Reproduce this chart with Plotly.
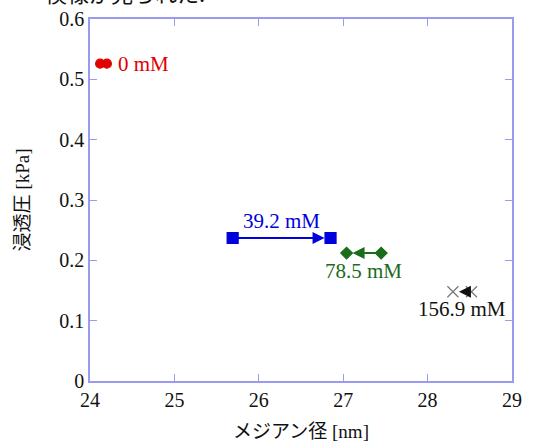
import plotly.graph_objects as go

# data: (start x, end x, y) for each concentration
labels = ["0 mM", "39.2 mM", "78.5 mM", "156.9 mM"]
x_start = [24.12, 25.69, 27.45, 28.52]
x_end = [24.20, 26.85, 27.04, 28.30]
y_vals = [0.526, 0.237, 0.212, 0.148]
colors = ["#e00000", "#0000dd", "#1a6b1a", "#111111"]
symbols = ["circle", "square", "diamond", "x-thin"]
sizes = [9, 11, 9, 11]

x_ticks = [24, 25, 26, 27, 28, 29]
y_ticks = [0, 0.1, 0.2, 0.3, 0.4, 0.5, 0.6]
y_ticktext = ["0", "0.1", "0.2", "0.3", "0.4", "0.5", "0.6"]

SERIF = "Liberation Serif"
TITLEF = "Liberation Serif, Noto Sans CJK JP"
AXC = "#9a9af0"

W, H = 543, 443
ML, MR, MT, MB = 90, 31, 19, 62
PW, PH = W - ML - MR, H - MT - MB

fig = go.Figure()
for i in range(len(labels)):
    fig.add_trace(go.Scatter(
        x=[x_start[i], x_end[i]], y=[y_vals[i], y_vals[i]],
        mode="markers",
        marker=dict(symbol=symbols[i], size=sizes[i], color=colors[i],
                    line=dict(width=1.2, color=colors[i] if i < 3 else "#777777")),
        showlegend=False, cliponaxis=False, hoverinfo="skip"))
    if i > 0:
        fig.add_annotation(x=x_end[i], y=y_vals[i], ax=x_start[i], ay=y_vals[i],
                           xref="x", yref="y", axref="x", ayref="y",
                           showarrow=True, arrowhead=2, arrowsize=1.2, arrowwidth=2,
                           arrowcolor=colors[i], standoff=6, text="")

# text labels
lab_pos = [(24.32, 0.526, "left", "middle"),
           ((x_start[1] + x_end[1]) / 2, 0.243, "center", "bottom"),
           ((x_start[2] + x_end[2]) / 2 - 0.0, 0.205, "center", "top"),
           (28.41, 0.142, "center", "top")]
for i, (lx, ly, xa, ya) in enumerate(lab_pos):
    fig.add_annotation(x=lx, y=ly, xref="x", yref="y", text=labels[i], showarrow=False,
                       xanchor=xa, yanchor=ya, yshift=(-1 if ya == "top" else 0),
                       borderpad=0,
                       font=dict(family=SERIF, size=21, color=colors[i]))

# cropped caption text at the very top of the image
fig.add_annotation(x=(22 - ML) / PW, y=(PH + MT - 9) / PH, xref="paper", yref="paper",
                   text="・模様が見られた.",
                   showarrow=False, xanchor="left", yanchor="bottom", borderpad=0,
                   font=dict(family="Noto Sans CJK JP", size=22, color="#111111"))

fig.update_layout(
    width=W, height=H,
    margin=dict(l=ML, r=MR, t=MT, b=MB, autoexpand=False),
    paper_bgcolor="white", plot_bgcolor="white",
    font=dict(family=SERIF, size=20, color="#111111"),
    xaxis=dict(range=[24, 29], tickvals=x_ticks, ticks="inside", ticklen=7, tickcolor=AXC,
               showline=True, linecolor=AXC, linewidth=1.5, mirror="ticks", showgrid=False,
               zeroline=False, automargin=False,
               tickfont=dict(family=SERIF, size=20, color="#111111"),
               title=dict(text="メジアン径 [nm]", standoff=15,
                          font=dict(family=TITLEF, size=19, color="#111111"))),
    yaxis=dict(range=[0, 0.6], tickvals=y_ticks, ticktext=y_ticktext, ticks="inside", ticklen=7,
               tickcolor=AXC, showline=True, linecolor=AXC, linewidth=1.5, mirror="ticks",
               showgrid=False, zeroline=False, automargin=False,
               tickfont=dict(family=SERIF, size=20, color="#111111"),
               title=dict(text="浸透圧 [kPa]", standoff=25,
                          font=dict(family=TITLEF, size=19, color="#111111"))),
)

fig.write_html("out.html", config={"displayModeBar": False},
               post_script="document.body.style.margin='0';")
